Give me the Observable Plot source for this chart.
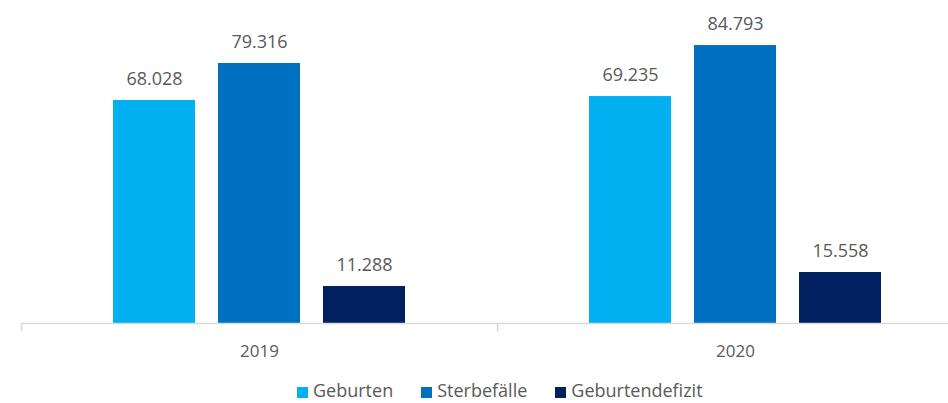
<!DOCTYPE html>
<html><head><meta charset="utf-8">
<script src="https://cdn.jsdelivr.net/npm/d3@7"></script>
<script src="https://cdn.jsdelivr.net/npm/@observablehq/plot@0.6"></script>
<style>
body{margin:0;background:#fff;font-family:"Open Sans",sans-serif;}
#wrap{width:948px;height:403px;position:relative;overflow:hidden;}
#chart{width:948px;height:375px;overflow:hidden;}
#chart svg{max-width:none !important;}
#legend{position:absolute;left:297px;top:378px;height:25px;display:flex;font-size:18px;color:#595959;line-height:25px;white-space:nowrap;}
#legend span.item{display:flex;align-items:center;margin-right:28px;}
#legend span.sw{width:11px;height:11px;display:inline-block;margin-right:5px;margin-top:3px;}
</style></head><body>
<div id="wrap"><div id="chart"></div><div id="legend"></div></div>
<script>
const years = ["2019", "2020"];
const series = ["Geburten", "Sterbefälle", "Geburtendefizit"];
const colors = ["#00B0F0", "#0070C0", "#002060"];
const geburten = [68028, 69235];
const sterbefaelle = [79316, 84793];
const defizit = [11288, 15558];

const values = [geburten, sterbefaelle, defizit];
const data = [];
years.forEach((y, i) => series.forEach((s, j) => data.push({year: y, series: s, value: values[j][i]})));
const fmt = v => new Intl.NumberFormat("de-DE").format(v);

const chart = Plot.plot({
  width: 973, height: 375,
  marginLeft: 21, marginRight: 0, marginTop: 0, marginBottom: 45,
  style: {fontFamily: "Open Sans, sans-serif", overflow: "visible", maxWidth: "none"},
  fx: {domain: years, paddingInner: 0, paddingOuter: 0, label: null},
  x: {domain: series, paddingInner: 0.223, paddingOuter: 0.867, axis: null},
  y: {domain: [0, 98536], range: [323, 0], axis: null},
  color: {domain: series, range: colors},
  marks: [
    Plot.barY(data, {fx: "year", x: "series", y: "value", fill: "series"}),
    Plot.text(data, {fx: "year", x: "series", y: "value", text: d => fmt(d.value), dy: -21, fontSize: 18, fill: "#595959", lineAnchor: "middle"}),
    Plot.ruleY([0], {stroke: "#d9d9d9", strokeWidth: 1.5}),
    Plot.frame({anchor: "left", insetTop: 323, stroke: "#d9d9d9", strokeWidth: 1.5}),
    Plot.axisFx({anchor: "bottom", tickSize: 0, tickPadding: 14, fontSize: 17, color: "#595959", label: null})
  ]
});
document.getElementById("chart").appendChild(chart);

const leg = document.getElementById("legend");
series.forEach((s, i) => {
  const it = document.createElement("span"); it.className = "item";
  const sw = document.createElement("span"); sw.className = "sw"; sw.style.background = colors[i];
  it.appendChild(sw); it.appendChild(document.createTextNode(s));
  leg.appendChild(it);
});
</script></body></html>
